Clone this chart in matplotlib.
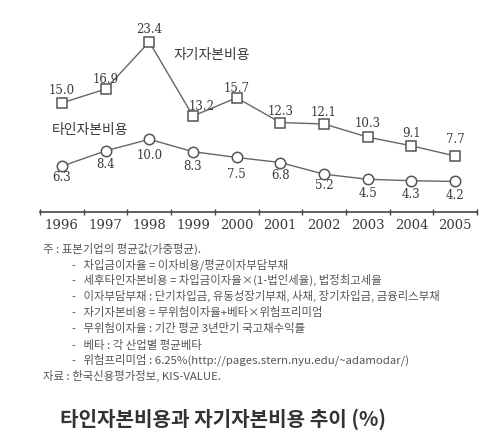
import matplotlib
matplotlib.use("Agg")
import matplotlib.pyplot as plt

plt.rcParams['font.family'] = ['Noto Sans CJK KR', 'DejaVu Sans']

# ---- data ----
years = ['1996', '1997', '1998', '1999', '2000', '2001', '2002', '2003', '2004', '2005']
equity_cost = [15.0, 16.9, 23.4, 13.2, 15.7, 12.3, 12.1, 10.3, 9.1, 7.7]
debt_cost = [6.3, 8.4, 10.0, 8.3, 7.5, 6.8, 5.2, 4.5, 4.3, 4.2]
equity_name = '자기자본비용'
debt_name = '타인자본비용'
title = '타인자본비용과 자기자본비용 추이 (%)'
notes = [
    '주 : 표본기업의 평균값(가중평균).',
    '-   차입금이자율 = 이자비용/평균이자부담부채',
    '-   세후타인자본비용 = 차입금이자율×(1-법인세율), 법정최고세율',
    '-   이자부담부채 : 단기차입금, 유동성장기부채, 사채, 장기차입금, 금융리스부채',
    '-   자기자본비용 = 무위험이자율+베타×위험프리미엄',
    '-   무위험이자율 : 기간 평균 3년만기 국고채수익률',
    '-   베타 : 각 산업별 평균베타',
    '-   위험프리미엄 : 6.25%(http://pages.stern.nyu.edu/~adamodar/)',
    '자료 : 한국신용평가정보, KIS-VALUE.',
]

W, H = 480, 445
LINE = '#666666'
TXT = '#3a3a3a'

fig = plt.figure(figsize=(W / 100, H / 100), dpi=100)
fig.patch.set_facecolor('white')

# axes placed in pixel terms: x 40..477, y 20..212
ax = fig.add_axes([40 / W, 1 - 212 / H, 437 / W, 192 / H])
ax.set_xlim(-0.5, 9.5)
ax.set_ylim(0, 26.4)
for s in ['top', 'right', 'left']:
    ax.spines[s].set_visible(False)
ax.spines['bottom'].set_color('#444444')
ax.spines['bottom'].set_linewidth(1.2)
ax.set_yticks([])

x = list(range(len(years)))
ax.set_xticks([i - 0.5 for i in range(len(years) + 1)])
ax.set_xticklabels([])
ax.set_xticks(x, minor=True)
ax.set_xticklabels(years, minor=True, family='DejaVu Serif', fontsize=9.5, color=TXT)
ax.tick_params(axis='x', which='major', direction='inout', length=5, width=1, color='#444444')
ax.tick_params(axis='x', which='minor', length=0, pad=5)

ax.plot(x, equity_cost, color=LINE, lw=1.0, marker='s', ms=7.5,
        mfc='white', mec='#555555', mew=1.1, zorder=3)
ax.plot(x, debt_cost, color=LINE, lw=1.0, marker='o', ms=7.5,
        mfc='white', mec='#555555', mew=1.1, zorder=3)

# label offsets in points (dx, dy)
eq_off = [(0, 9), (0, 7), (0, 9), (6, 7), (0, 7), (0, 8), (0, 8), (0, 10), (0, 9), (0, 12)]
dt_off = [(0, -8), (0, -10), (0, -12), (0, -11), (0, -12), (0, -9), (0, -8), (0, -10), (0, -10), (0, -10)]

for i, v in enumerate(equity_cost):
    ax.annotate(f'{v:.1f}', (i, v), xytext=eq_off[i], textcoords='offset points',
                ha='center', va='center', family='DejaVu Serif', fontsize=8.5, color=TXT)
for i, v in enumerate(debt_cost):
    ax.annotate(f'{v:.1f}', (i, v), xytext=dt_off[i], textcoords='offset points',
                ha='center', va='center', family='DejaVu Serif', fontsize=8.5, color=TXT)

fig.text(173 / W, 1 - 55 / H, equity_name, fontsize=10, color=TXT, va='center', ha='left')
fig.text(52 / W, 1 - 130 / H, debt_name, fontsize=10, color=TXT, va='center', ha='left')

# notes block
note_y = [249, 265, 280, 296, 312, 328, 345, 360, 376]
for i, line in enumerate(notes):
    xx = 43 if i in (0, len(notes) - 1) else 72
    fig.text(xx / W, 1 - note_y[i] / H, line, fontsize=8.2, color='#555555',
             va='center', ha='left')

fig.text(60 / W, 1 - 419 / H, title, fontsize=14.5, fontweight='bold',
         color='#333333', va='center', ha='left')

fig.savefig('out.png', dpi=100, facecolor='white')
